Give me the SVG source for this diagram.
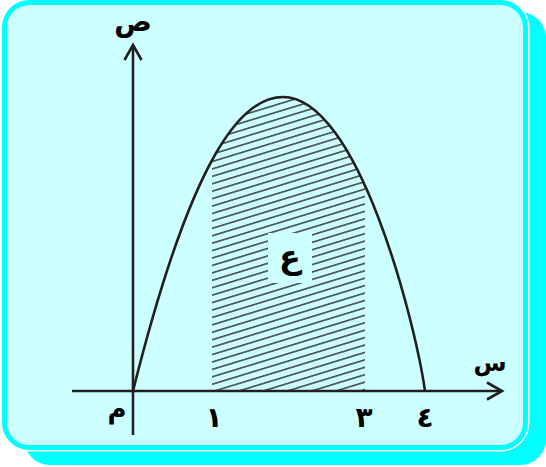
<svg xmlns="http://www.w3.org/2000/svg" width="546" height="467" viewBox="0 0 546 467">
<style>
.ax{stroke:#231F20;stroke-width:2.6;fill:none}
.cv{stroke:#231F20;stroke-width:2.6;fill:none}
.lb{font-family:"DejaVu Sans",sans-serif;font-weight:bold;fill:#000;text-anchor:middle}
</style>
<defs>
<marker id="arr" markerUnits="userSpaceOnUse" viewBox="-18 -11 22 22" markerWidth="22" markerHeight="22" refX="0" refY="0" orient="auto">
<path d="M-15,-8.5 L0,0 L-15,8.5" fill="none" stroke="#231F20" stroke-width="2.6"/>
</marker>
<pattern id="hatch" patternUnits="userSpaceOnUse" width="20" height="7.1" patternTransform="rotate(-17)">
<path d="M-1,3.5 H21" stroke="#231F20" stroke-width="1.3"/>
</pattern>
<clipPath id="band"><rect x="212" y="80" width="153" height="311"/></clipPath>
</defs>
<g id="panel">
<rect x="24" y="12" width="522" height="453" rx="26" fill="#00FFFF"/>
<rect x="4.5" y="2.5" width="521" height="445" rx="25" fill="none" stroke="#FFFFFF" stroke-width="8"/>
<rect x="4.5" y="2.5" width="521" height="445" rx="25" fill="#CCFFFF" stroke="#00FFFF" stroke-width="5"/>
</g>
<g id="area">
<path clip-path="url(#band)" fill="url(#hatch)" d="M133,391 C193,151 243,97 283,97 C358,97 415,321 425,391 Z"/>
<rect x="268" y="233" width="44" height="50" fill="#CCFFFF"/>
<text class="lb" x="290" y="268" font-size="32">ع</text>
</g>
<g id="connectors">
<line class="ax" x1="133" y1="435" x2="133" y2="45" marker-end="url(#arr)"/>
<line class="ax" x1="72" y1="391" x2="502" y2="391" marker-end="url(#arr)"/>
<path id="curve" class="cv" d="M133,391 C193,151 243,97 283,97 C358,97 415,321 425,391"/>
</g>
<g id="labels">
<text class="lb" x="133" y="31" font-size="28">ص</text>
<text class="lb" x="490" y="371" font-size="24">س</text>
<text class="lb" x="117" y="418" font-size="26">م</text>
<text class="lb" x="214" y="427" font-size="28">١</text>
<text class="lb" x="364" y="427" font-size="28">٣</text>
<text class="lb" x="425" y="427" font-size="28">٤</text>
</g>
</svg>
